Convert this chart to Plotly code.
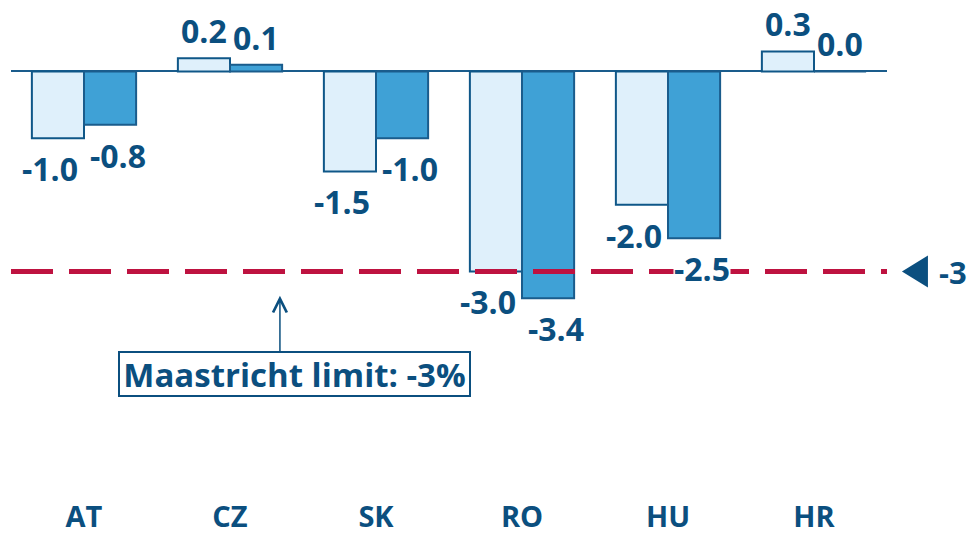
import plotly.graph_objects as go

countries = ["AT", "CZ", "SK", "RO", "HU", "HR"]
series_a = [-1.0, 0.2, -1.5, -3.0, -2.0, 0.3]
series_b = [-0.8, 0.1, -1.0, -3.4, -2.5, 0.0]
limit_value = -3
limit_label = "Maastricht limit: -3%"

navy = "#0B4F7F"
font_family = "'Open Sans', sans-serif"
label_font = dict(size=32, color=navy, family=font_family, weight="bold")

fig = go.Figure()
fig.add_trace(go.Bar(
    x=countries, y=series_a,
    marker=dict(color="#DFF0FB", line=dict(color="#0F5788", width=2)),
    showlegend=False,
))
fig.add_trace(go.Bar(
    x=countries, y=series_b,
    marker=dict(color="#3FA1D6", line=dict(color="#1A5C8C", width=2)),
    showlegend=False,
))

# value labels for each bar
for series, side in ((series_a, -1), (series_b, 1)):
    for c, v in zip(countries, series):
        neg = v < 0
        fig.add_annotation(
            x=c, y=v, xref="x", yref="y", showarrow=False,
            text=f"{v:.1f}", font=label_font,
            xanchor="center", yanchor="top" if neg else "bottom",
            xshift=side * (34 if neg else 26),
            yshift=-8 if neg else 5,
            bgcolor="white" if neg else "rgba(0,0,0,0)", borderpad=0,
        )

# dashed limit line
fig.add_shape(type="line", xref="x", yref="y", x0=-0.5, x1=5.54,
              y0=limit_value, y1=limit_value, layer="above",
              line=dict(color="#BE1240", width=5, dash="42px,16px"))

# triangle pointer at the right end of the limit line
fig.add_shape(type="path", xref="paper", yref="y",
              xsizemode="pixel", ysizemode="pixel",
              xanchor=1.0342, yanchor=limit_value,
              path="M -15,0 L 11,16 L 11,-16 Z",
              fillcolor=navy, line=dict(width=0), layer="above")
fig.add_annotation(
    x=1.0570, y=limit_value, xref="paper", yref="y", showarrow=False,
    text="<b>" + str(limit_value) + "</b>", xanchor="left", yshift=-1,
    font=dict(size=31, color=navy, family=font_family, weight="bold"),
)

# callout box and arrow
fig.add_annotation(
    x=1.442, y=-4.534, xref="x", yref="y", showarrow=False,
    text=limit_label,
    font=dict(size=33, color=navy, family=font_family, weight="bold"),
    width=347, height=40, align="center",
    bordercolor=navy, borderwidth=2, borderpad=1, bgcolor="white",
)
fig.add_annotation(
    x=1.342, y=-3.365, xref="x", yref="y",
    ax=0, ay=57, axref="pixel", ayref="pixel",
    text="", showarrow=True, arrowhead=5, arrowsize=1.8,
    arrowwidth=1.5, arrowcolor=navy,
)

fig.update_layout(
    width=971, height=535,
    margin=dict(l=11, r=84, t=0, b=31),
    plot_bgcolor="white", paper_bgcolor="white",
    barmode="group", bargap=0.286, bargroupgap=0,
    xaxis=dict(range=[-0.5, 5.5], showgrid=False, showline=False, ticks="",
               tickfont=dict(size=29, color=navy, family=font_family, weight="bold")),
    yaxis=dict(range=[-6.383, 1.072], showgrid=False, showticklabels=False,
               zeroline=True, zerolinecolor="#1A5C8C", zerolinewidth=2),
)

fig.write_html("out.html", config={"displayModeBar": False},
               post_script="document.body.style.margin='0';")
